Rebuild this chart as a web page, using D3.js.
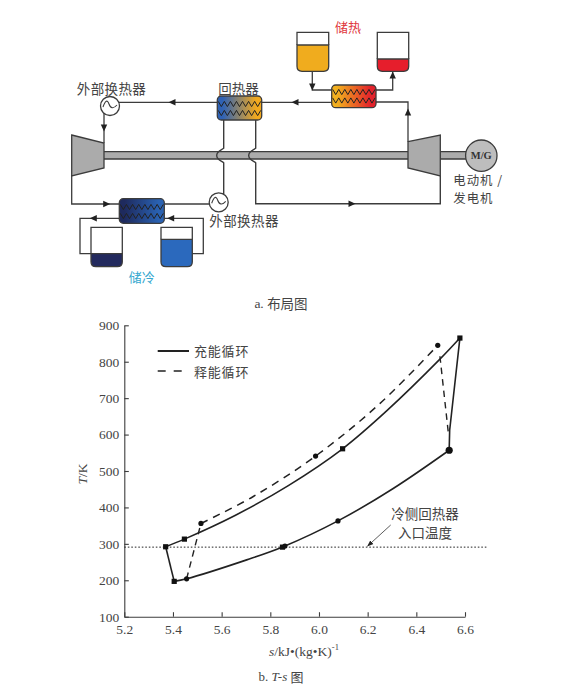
<!DOCTYPE html>
<html><head><meta charset="utf-8">
<script src="https://cdnjs.cloudflare.com/ajax/libs/d3/7.8.5/d3.min.js"></script>
<style>html,body{margin:0;padding:0;background:#fff}svg{display:block}</style>
</head><body><svg id="c" width="566" height="698"></svg>
<script>
// ---- chart data (s in kJ/(kg K), T in K)
const xTicks=[5.2,5.4,5.6,5.8,6.0,6.2,6.4,6.6];
const yTicks=[100,200,300,400,500,600,700,800,900];
const chargeUpper=[[5.37,292],[5.447,313],[5.655,378],[5.874,460],[6.097,561],[6.278,665],[6.497,807],[6.579,865]];
const chargeLower=[[5.405,197],[5.456,204],[5.703,256],[5.853,292],[6.078,363],[6.305,452],[6.535,557]];
const chargeSides=[[[6.579,865],[6.537,612],[6.535,557]],[[5.37,292],[5.405,197]]];
const dischargeUpper=[[5.515,356],[5.73,430],[5.986,541],[6.25,685],[6.488,845]];
const dischargeSides=[[[5.456,204],[5.515,356]],[[6.497,815],[6.531,608]]];
const squares=[[5.37,292],[5.447,313],[6.097,561],[6.579,865],[5.405,197],[5.85,291]];
const dots=[[5.456,204],[5.515,356],[5.986,541],[6.488,845],[5.86,294],[6.078,363]];
const endDot=[[6.535,557]];
const refT=291;
const legendLabels=["充能循环","释能循环"];

const svg=d3.select("#c");
const INK="#3c3c3c",TXT="#444",CJK="'Noto Sans CJK SC',sans-serif",SERIF="'Liberation Serif',serif";
const defs=svg.append("defs");
function grad(id,a,b){const g=defs.append("linearGradient").attr("id",id);
 g.append("stop").attr("offset","12%").attr("stop-color",a);g.append("stop").attr("offset","88%").attr("stop-color",b);}
grad("gR","#2f62b5","#f2a91e");grad("gH","#f2b01e","#e3222b");grad("gC","#1e2a5e","#2a62b2");

// ---- schematic
const sch=svg.append("g");
function path(d,fill,w,col){return sch.append("path").attr("d",d).attr("fill",fill||"none").attr("stroke",col||INK).attr("stroke-width",w||1.3);}
function arrow(x,y,dir){const r={l:180,r:0,u:-90,d:90}[dir];
 sch.append("path").attr("d","M-3.5,-3.2L3.5,0L-3.5,3.2Z").attr("fill","#222").attr("transform",`translate(${x},${y}) rotate(${r})`);}
function text(g,x,y,s,size,opt={}){return g.append("text").attr("x",x).attr("y",y).text(s)
 .attr("font-family",opt.font||CJK).attr("font-size",size).attr("fill",opt.fill||TXT)
 .attr("text-anchor",opt.anchor||"middle").attr("dominant-baseline","central")
 .attr("letter-spacing",opt.ls||0);}

// shafts
sch.append("rect").attr("x",104).attr("y",152).attr("width",304).attr("height",7).attr("fill","#ababab");
path("M104,151.7H408M104,159H408");
sch.append("rect").attr("x",440).attr("y",152).attr("width",26).attr("height",7).attr("fill","#ababab");
path("M440,151.7H466M440,159H466");

// pipes
path("M110,102.3H331.7");
path("M104,113V143");
const hop=x=>`M${x},120V148.3C${x-2},150 ${x-7},151 ${x-7},155.4S${x-2},161 ${x},162.7`;
path(hop(223.7)+"V194",null,1.4);
path(hop(255.7)+"V203.7H440.3V176",null,1.4);
path("M376,102H408V141.7");
path("M312.3,71.3V90H331.7");
path("M376,90H392.7V71.3");
path("M71.7,176V204H119.3");
path("M164.3,204H209");
path("M119.3,218.3H80V253.7H91");
path("M164.3,218.3H203.3V253.7H192.3");
// arrows
[[172,102.3,"l"],[295,102.3,"l"],[104,128,"d"],[408,112,"u"],[312.3,87,"d"],[392.7,75,"u"],[352,203.7,"r"],[106.7,204,"r"],[93.3,218.3,"l"],[170.7,218.3,"l"]]
 .forEach(a=>arrow(a[0],a[1],a[2]));

// turbine / compressor
path("M71.7,135L104,143V168L71.7,176Z","#ababab",1.3);
path("M408,141.7L440.3,135V176L408,168Z","#ababab",1.3);
// M/G
sch.append("circle").attr("cx",481.3).attr("cy",155.7).attr("r",15.7).attr("fill","#bdbdbd").attr("stroke",INK).attr("stroke-width",1.3);
text(sch,481.3,155.7,"M/G",10.5,{font:SERIF}).attr("font-weight","bold").attr("fill","#333");

// exchangers circles
function hx(cx,cy){
 sch.append("circle").attr("cx",cx).attr("cy",cy).attr("r",9.5).attr("fill","#fff").attr("stroke",INK).attr("stroke-width",1.3);
 path(`M${cx-7},${cy+1}Q${cx-3.5},${cy-9} ${cx-1},${cy-2}T${cx+7},${cy-1}`,"none",1.1);
}
hx(110,106);hx(218.7,202.3);

// boxes with zigzags
function box(x0,x1,y0,y1,fill,ys){
 sch.append("rect").attr("x",x0).attr("y",y0).attr("width",x1-x0).attr("height",y1-y0).attr("rx",4).attr("fill",fill).attr("stroke",INK).attr("stroke-width",1.3);
 const n=14,step=(x1-x0-2)/n;
 ys.forEach(y=>{const pts=d3.range(n+1).map(i=>[x0+1+i*step,y+(i%2?2.6:-2.6)]);
  sch.append("path").attr("d",d3.line()(pts)).attr("fill","none").attr("stroke","#222").attr("stroke-width",1);});
}
box(217.3,261.7,96,120,"url(#gR)",[104,113]);
box(331.7,376,85,107.7,"url(#gH)",[92,100.5]);
box(119.3,164.3,198.7,223.3,"url(#gC)",[207,216]);

// tanks
function tank(x0,x1,y0,y1,top,col){
 const b=`M${x0},${top}V${y1-5}Q${x0},${y1} ${x0+5},${y1}H${x1-5}Q${x1},${y1} ${x1},${y1-5}V${top}Z`;
 path(b,col,1.3);
 path(`M${x0},${top}V${y0}H${x1}V${top}`);
}
tank(297,328.7,32.3,71.3,45,"#f0ac1e");
tank(377.3,408.7,32.3,71.3,59,"#e61e2c");
tank(91,122.3,227.3,266.7,253.7,"#232a5e");
tank(161,192.3,227.3,266.7,239.3,"#2b69bd");

// schematic labels
text(sch,111.5,87.7,"外部换热器",13.5,{ls:.4});
text(sch,238.5,87.7,"回热器",13.5);
text(sch,348,26.7,"储热",13,{fill:"#e0383e"});
text(sch,453.3,179.8,"电动机 /",12.4,{anchor:"start",ls:1});
text(sch,453.3,198,"发电机",12.4,{anchor:"start",ls:1});
text(sch,209.3,220,"外部换热器",13.5,{anchor:"start",ls:.4});
text(sch,141.7,276,"储冷",13,{fill:"#35a8cf"});
const capA=text(sch,281,303,"",13.5,{font:SERIF});
capA.append("tspan").text("a. ").attr("font-family",SERIF);
capA.append("tspan").text("布局图").attr("font-family",CJK);

// ---- T-s chart
const x=d3.scaleLinear().domain([5.2,6.6]).range([124.3,465]);
const y=d3.scaleLinear().domain([100,900]).range([616.7,325.3]);
const g=svg.append("g");
const ax=g.append("g").attr("transform","translate(0,616.7)")
 .call(d3.axisBottom(x).tickValues(xTicks).tickFormat(d3.format(".1f")).tickSizeInner(-4.5).tickSizeOuter(0).tickPadding(6));
const ay=g.append("g").attr("transform","translate(124.3,0)")
 .call(d3.axisLeft(y).tickValues(yTicks).tickSizeInner(-4.5).tickSizeOuter(0).tickPadding(5));
[ax,ay].forEach(a=>{a.selectAll("path,line").attr("stroke",INK).attr("stroke-width",1.1);
 a.selectAll("text").attr("font-family",SERIF).attr("font-size",13.5).attr("fill",TXT);});
ax.selectAll("text").attr("dy","0.85em");

const line=d3.line().x(d=>x(d[0])).y(d=>y(d[1]));
const smooth=d3.line().x(d=>x(d[0])).y(d=>y(d[1])).curve(d3.curveCatmullRom.alpha(.5));
const dash="7.5,6";
// reference line
g.append("line").attr("x1",x(5.2)).attr("x2",488).attr("y1",y(refT)).attr("y2",y(refT))
 .attr("stroke","#222").attr("stroke-width",1).attr("stroke-dasharray","1.6,1.9");
// series
[chargeUpper,chargeLower].forEach(d=>g.append("path").attr("d",smooth(d)).attr("fill","none").attr("stroke","#222").attr("stroke-width",1.6));
chargeSides.forEach(d=>g.append("path").attr("d",line(d)).attr("fill","none").attr("stroke","#222").attr("stroke-width",1.6));
g.append("path").attr("d",smooth(dischargeUpper)).attr("fill","none").attr("stroke","#222").attr("stroke-width",1.5).attr("stroke-dasharray",dash);
dischargeSides.forEach(d=>g.append("path").attr("d",line(d)).attr("fill","none").attr("stroke","#222").attr("stroke-width",1.4).attr("stroke-dasharray","6.5,5"));
// markers
g.selectAll(".sq").data(squares).join("rect").attr("class","sq").attr("x",d=>x(d[0])-2.6).attr("y",d=>y(d[1])-2.6).attr("width",5.2).attr("height",5.2).attr("fill","#111");
g.selectAll(".dt").data(dots).join("circle").attr("class","dt").attr("cx",d=>x(d[0])).attr("cy",d=>y(d[1])).attr("r",2.6).attr("fill","#111");
g.selectAll(".ed").data(endDot).join("circle").attr("class","ed").attr("cx",d=>x(d[0])).attr("cy",d=>y(d[1])).attr("r",3.6).attr("fill","#111");

// legend
g.append("line").attr("x1",157.7).attr("x2",189).attr("y1",351).attr("y2",351).attr("stroke","#222").attr("stroke-width",2);
g.append("line").attr("x1",157.7).attr("x2",189).attr("y1",371).attr("y2",371).attr("stroke","#222").attr("stroke-width",1.6).attr("stroke-dasharray","8,8");
legendLabels.forEach((s,i)=>text(g,194,350+i*21,s,13,{anchor:"start",ls:.8}));

// axis titles
const ty=g.append("text").attr("transform","translate(81.7,474) rotate(-90)").attr("text-anchor","middle").attr("dominant-baseline","central")
 .attr("font-family",SERIF).attr("font-size",13.5).attr("fill",TXT);
ty.append("tspan").text("T").attr("font-style","italic");ty.append("tspan").text("/K");
const tx=g.append("text").attr("x",304).attr("y",651).attr("text-anchor","middle").attr("dominant-baseline","central")
 .attr("font-family",SERIF).attr("font-size",13.5).attr("fill",TXT);
tx.append("tspan").text("s").attr("font-style","italic");tx.append("tspan").text("/kJ•(kg•K)");
tx.append("tspan").text("-1").attr("font-size",8.5).attr("dy",-4.5);
const capB=g.append("text").attr("x",281).attr("y",675.7).attr("text-anchor","middle").attr("dominant-baseline","central")
 .attr("font-family",SERIF).attr("font-size",13).attr("fill",TXT);
capB.append("tspan").text("b. ");capB.append("tspan").text("T-s").attr("font-style","italic");capB.append("tspan").text(" ");
capB.append("tspan").text("图").attr("font-family",CJK);

// annotation
text(g,425,512.7,"冷侧回热器",13.5);
text(g,425,531.7,"入口温度",13.5);
defs.append("marker").attr("id","ah").attr("viewBox","0 0 8 8").attr("refX",7).attr("refY",4).attr("markerWidth",8).attr("markerHeight",8).attr("orient","auto")
 .append("path").attr("d","M0,1L8,4L0,7Z").attr("fill","#222");
g.append("line").attr("x1",390.7).attr("y1",525).attr("x2",367.7).attr("y2",546).attr("stroke","#333").attr("stroke-width",.8).attr("marker-end","url(#ah)");
</script></body></html>
